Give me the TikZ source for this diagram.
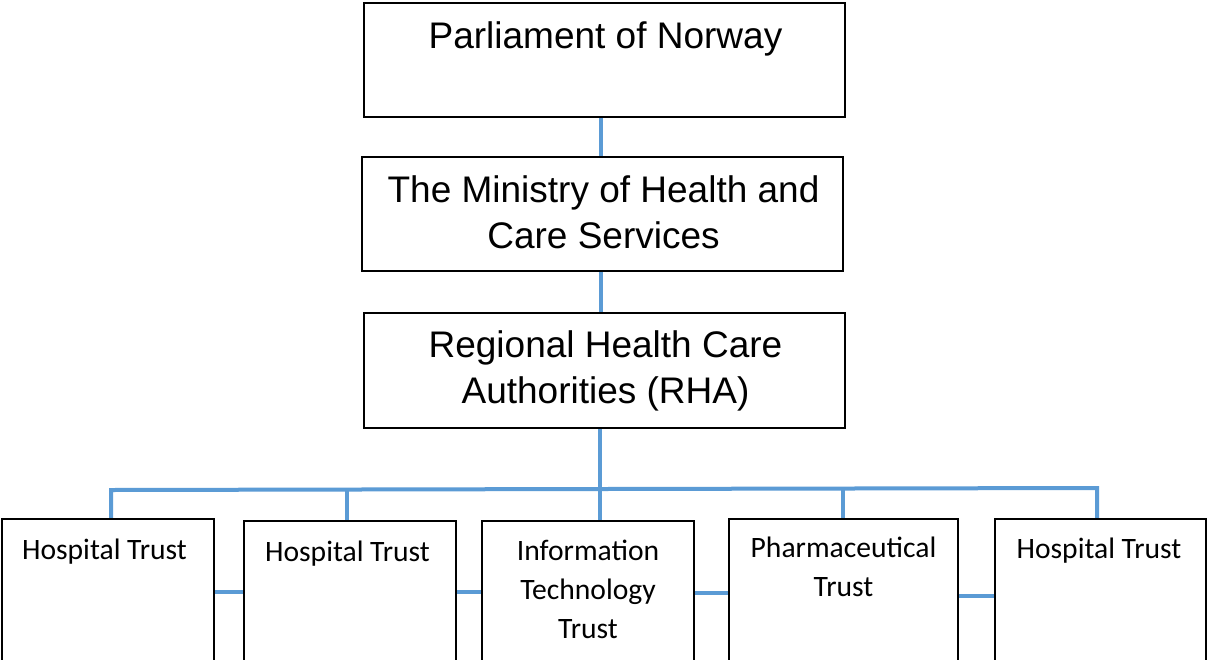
\documentclass[tikz,border=0pt]{standalone}
\usepackage{fontspec}
\setmainfont{Liberation Sans}
\newfontfamily\trustfont{Carlito}
\usetikzlibrary{backgrounds}
\definecolor{linkblue}{HTML}{5B9BD5}
\begin{document}
\begin{tikzpicture}[x=1pt,y=-1pt,
  unit/.style={draw=black, line width=2pt, fill=white, inner sep=0pt},
  link/.style={draw=linkblue, line width=4pt},
  headtext/.style={inner sep=0pt, anchor=north, align=center,
    font=\fontsize{37}{46.5}\selectfont},
  trusttext/.style={inner sep=0pt, anchor=north, align=center,
    font=\trustfont\fontsize{29.6}{39}\selectfont}]
\useasboundingbox (0,0) rectangle (1207,659);
\clip (0,0) rectangle (1207,659);

% upper chain of governing bodies
\node[unit, minimum width=481pt, minimum height=114pt] (parl) at (604.5,60) {};
\node[unit, minimum width=481pt, minimum height=114pt] (min)  at (602.5,214) {};
\node[unit, minimum width=481pt, minimum height=115pt] (rha)  at (604.5,370.5) {};

\node[headtext] (parltxt) at (605.5,15.45) {\strut Parliament of Norway};
\node[headtext] (mintxt)  at (603.5,169.45) {\strut The Ministry of Health and\\Care Services};
\node[headtext] (rhatxt)  at (605.5,324.45) {\strut Regional Health Care\\Authorities (RHA)};

% trusts under the regional authorities
\node[unit, minimum width=212pt, minimum height=161pt] (t1) at (108,599.5) {};
\node[unit, minimum width=212pt, minimum height=159pt] (t2) at (350,600.5) {};
\node[unit, minimum width=212pt, minimum height=159pt] (t3) at (588,600.5) {};
\node[unit, minimum width=229pt, minimum height=161pt] (t4) at (843.5,599.5) {};
\node[unit, minimum width=211pt, minimum height=161pt] (t5) at (1100.5,599.5) {};

\node[trusttext] (t1txt) at (104.5,531.7) {\strut Hospital Trust};
\node[trusttext] (t2txt) at (347.5,533.7) {\strut Hospital Trust};
\node[trusttext] (t3txt) at (588,532.7) {\strut Information\\Technology\\Trust};
\node[trusttext] (t4txt) at (843.5,529.7) {\strut Pharmaceutical\\Trust};
\node[trusttext] (t5txt) at (1099,530.7) {\strut Hospital Trust};

% connectors, kept behind the boxes
\coordinate (spine) at (601,0);
\coordinate (hub)   at (600,489);
\coordinate (busL)  at (111,490);
\coordinate (busR)  at (1097,488);
\coordinate (d2)    at (347,489.5);
\coordinate (d4)    at (843,488.5);
\begin{scope}[on background layer]
  \fill[white] (0,0) rectangle (1207,659);
  \draw[link] (parl.south -| spine) -- (min.north -| spine);
  \draw[link] (min.south -| spine) -- (rha.north -| spine);
  \draw[link] (rha.south -| hub) -- (t3.north -| hub);
  \draw[link] (t1.north -| busL) -- (busL) -- (busR) -- (t5.north -| busR);
  \draw[link] (d2) -- (t2.north -| d2);
  \draw[link] (d4) -- (t4.north -| d4);
  \draw[link] (t1.east |- 0,592) -- (t2.west |- 0,592);
  \draw[link] (t2.east |- 0,592) -- (t3.west |- 0,592);
  \draw[link] (t3.east |- 0,593) -- (t4.west |- 0,593);
  \draw[link] (t4.east |- 0,596) -- (t5.west |- 0,596);
\end{scope}
\end{tikzpicture}
\end{document}
